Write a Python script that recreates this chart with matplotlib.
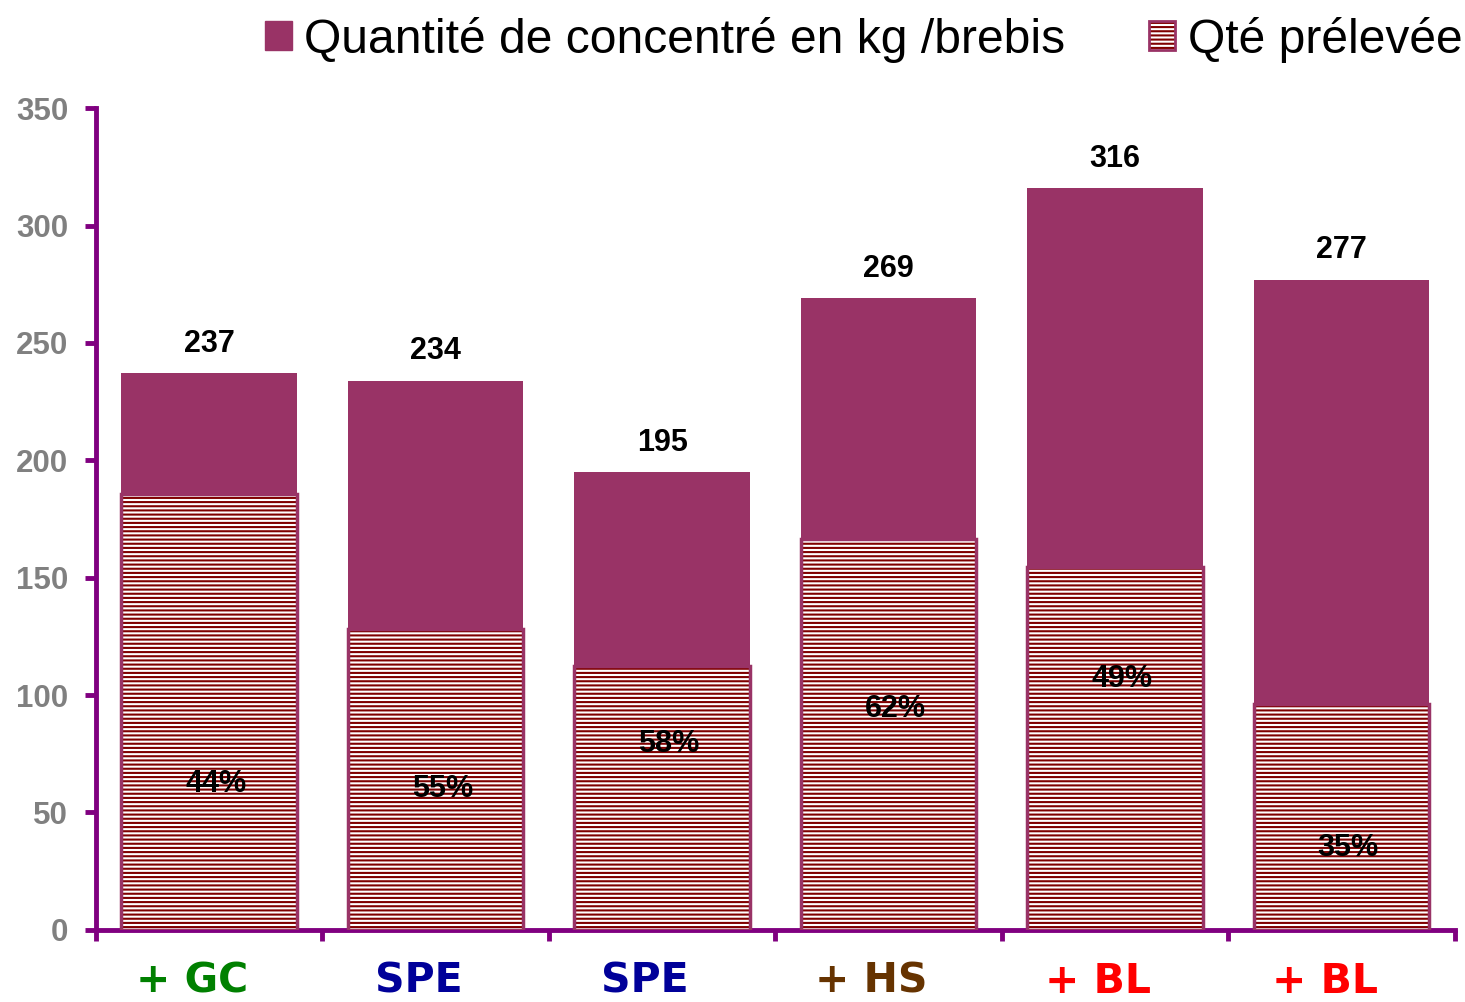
import matplotlib.pyplot as plt
import matplotlib.transforms as mtransforms
import numpy as np
from matplotlib.patches import Patch
from matplotlib.legend_handler import HandlerTuple

categories = ["+ GC", "SPE", "SPE", "+ HS", "+ BL", "+ BL"]
cat_colors = ["#008000", "#000099", "#000099", "#663300", "#ff0000", "#ff0000"]
total_kg = [237, 234, 195, 269, 316, 277]
preleve_kg = [185.5, 128, 112.5, 166.5, 154.5, 96]
pct_labels = ["44%", "55%", "58%", "62%", "49%", "35%"]
pct_label_y = [62, 60, 79, 94, 107, 35]

PURPLE = "#993366"
DARKRED = "#800000"
AXIS = "#800080"

plt.rcParams["hatch.linewidth"] = 1.5

fig = plt.figure(figsize=(14.65, 10.02), dpi=100)
ax = fig.add_axes([0.0655, 0.072, 0.9275, 0.820])

x = np.arange(len(categories))
w = 0.775

ax.bar(x, total_kg, width=w, color=PURPLE, linewidth=0, zorder=2)
ax.bar(x, preleve_kg, width=w, facecolor="white", edgecolor=DARKRED,
       hatch="----", linewidth=0, zorder=3)
ax.bar(x, preleve_kg, width=w, facecolor="none", edgecolor=PURPLE,
       linewidth=2.5, zorder=4)

for xi, v in zip(x, total_kg):
    ax.annotate(str(v), (xi, v), xytext=(0, 21), textcoords="offset points",
                ha="center", va="center", fontsize=22, fontweight="bold",
                family="Liberation Sans")

for xi, lab, yl in zip(x, pct_labels, pct_label_y):
    ax.text(xi + 0.03, yl, lab, ha="center", va="center", fontsize=22,
            fontweight="bold", family="Liberation Sans", zorder=5)

ax.set_xlim(-0.5, len(categories) - 0.5)
ax.set_ylim(0, 350)
ax.set_yticks(range(0, 351, 50))

for s in ["top", "right"]:
    ax.spines[s].set_visible(False)
for s in ["left", "bottom"]:
    ax.spines[s].set_color(AXIS)
    ax.spines[s].set_linewidth(3.5)

ax.tick_params(axis="y", colors=AXIS, width=3.5, length=8, pad=12,
               labelcolor="#808080", labelsize=22.5)
for t in ax.get_yticklabels():
    t.set_fontweight("bold")
    t.set_family("Liberation Sans")

ax.set_xticks(x)
ax.set_xticklabels(categories)
ax.set_xticks(np.arange(-0.5, len(categories), 1.0), minor=True)
ax.tick_params(axis="x", which="major", length=0, pad=23, labelsize=29.5)
ax.tick_params(axis="x", which="minor", colors=AXIS, width=3.5, length=8)
# labels sit a little left of the bar centres in the original
shift = mtransforms.ScaledTranslation(-0.17, 0, fig.dpi_scale_trans)
for t, c in zip(ax.get_xticklabels(), cat_colors):
    t.set_color(c)
    t.set_fontweight("bold")
    t.set_family("DejaVu Sans")
    t.set_transform(t.get_transform() + shift)

h1 = Patch(facecolor=PURPLE, edgecolor=PURPLE)
h2a = Patch(facecolor="white", edgecolor=DARKRED, hatch="----", linewidth=0)
h2b = Patch(facecolor="none", edgecolor=PURPLE, linewidth=2)
leg = fig.legend([h1, (h2a, h2b)],
                 ["Quantité de concentré en kg /brebis", "Qté prélevée"],
                 handler_map={tuple: HandlerTuple(ndivide=1)},
                 loc="upper right", bbox_to_anchor=(1.021, 1.017), ncol=2,
                 frameon=False, handlelength=0.55, borderpad=0.2,
                 handleheight=0.55, handletextpad=0.25, columnspacing=1.75,
                 prop={"family": "Liberation Sans", "size": 34.6})

fig.savefig("out.png", dpi=100)
